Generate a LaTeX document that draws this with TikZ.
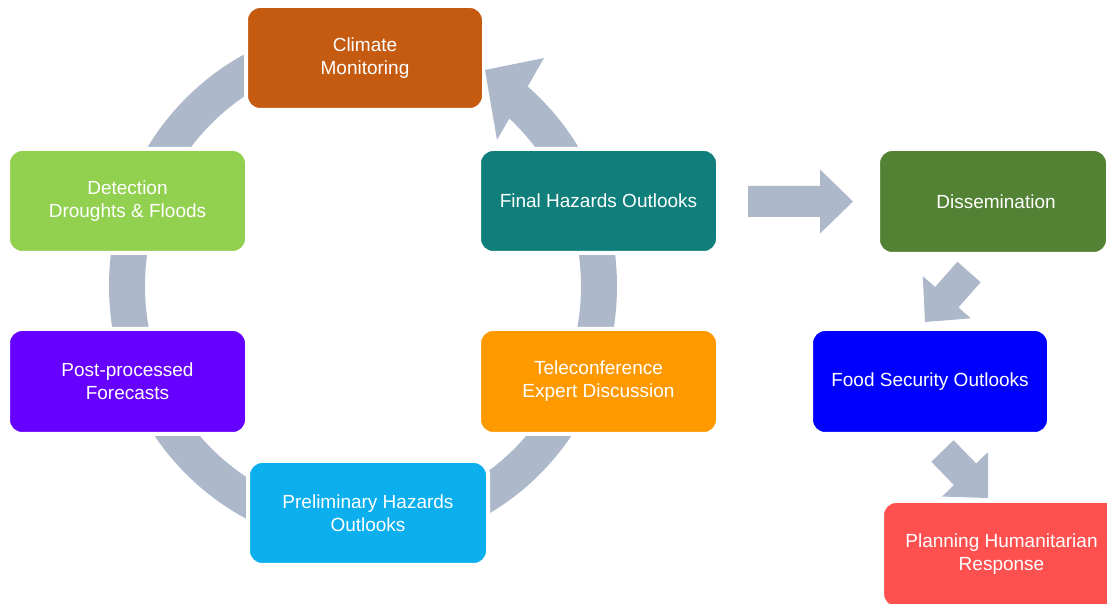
\documentclass[tikz,border=0pt]{standalone}
\usepackage{fontspec}
\setmainfont{Liberation Sans}
\usetikzlibrary{calc}
\definecolor{ringc}{HTML}{ADB9CA}
\definecolor{climc}{HTML}{C55A11}
\definecolor{detc}{HTML}{92D050}
\definecolor{finc}{HTML}{107E7A}
\definecolor{postc}{HTML}{6600FF}
\definecolor{telec}{HTML}{FF9900}
\definecolor{prelc}{HTML}{0BAFEE}
\definecolor{dissc}{HTML}{548235}
\definecolor{foodc}{HTML}{0000FF}
\definecolor{planc}{HTML}{FF5050}
\tikzset{
  box/.style={draw=white, line width=4pt, rounded corners=14pt, text=white,
    align=center, font=\fontsize{19}{23}\selectfont,
    minimum width=239pt, minimum height=104pt, inner sep=0pt},
  ringline/.style={draw=ringc, line width=36pt},
  ringhead/.style={fill=ringc}
}
\newcommand\blockarr[3]{%
  \coordinate (#3b) at ($(#2)!33pt!(#1)$);
  \fill[ringhead] ($(#1)!15.5pt!90:(#2)$) -- ($(#3b)!15.5pt!90:(#2)$)
    -- ($(#3b)!32pt!90:(#2)$) -- (#2) -- ($(#3b)!32pt!-90:(#2)$)
    -- ($(#3b)!15.5pt!-90:(#2)$) -- ($(#1)!15.5pt!-90:(#2)$) -- cycle;
}
\begin{document}
\begin{tikzpicture}[x=1pt,y=1pt]
\clip (0,0) rectangle (1107,604);
\fill[white] (0,0) rectangle (1107,604);
% ring
\coordinate (C) at (363,318);
\draw[ringline] (C) ++(50:236pt and 244pt) arc[start angle=50, end angle=-262, x radius=236pt, y radius=244pt];
% boxes
\node[box, fill=climc, minimum width=238pt] (clim) at (365,546) {Climate\\Monitoring};
\node[box, fill=detc] (det) at (127.5,403) {Detection\\Droughts \& Floods};
\node[box, fill=finc] (fin) at (598.5,403) {Final Hazards Outlooks};
\node[box, fill=postc, minimum height=105pt] (post) at (127.5,222.5) {Post-processed\\Forecasts};
\node[box, fill=telec, minimum height=105pt] (tele) at (598.5,222.5) {Teleconference\\Expert Discussion};
\node[box, fill=prelc, minimum width=240pt] (prel) at (368,91) {Preliminary Hazards\\Outlooks};
\node[box, fill=dissc, minimum width=230pt, minimum height=105pt] (diss) at (993,402.5) {\hspace*{6pt}Dissemination};
\node[box, fill=foodc, minimum width=238pt, minimum height=105pt] (food) at (930,222.5) {Food Security Outlooks};
\node[box, fill=planc, minimum height=107pt] (plan) at (1001.5,49.5) {Planning Humanitarian\\Response};
% ring arrow head
\coordinate (rt) at (485,534);
\coordinate (rw1) at (544,546);
\coordinate (rw2) at (497,464);
\fill[ringhead] (rt) -- (rw1) -- (rw2) -- cycle;
% block arrows
\coordinate (a1s) at (748,402.5);
\coordinate (a1e) at (853,402.5);
\coordinate (a2s) at (969,332);
\coordinate (a2e) at (925,282);
\coordinate (a3s) at (942.5,153);
\coordinate (a3e) at (988,106);
\blockarr{a1s}{a1e}{a1}
\blockarr{a2s}{a2e}{a2}
\blockarr{a3s}{a3e}{a3}
\end{tikzpicture}
\end{document}
